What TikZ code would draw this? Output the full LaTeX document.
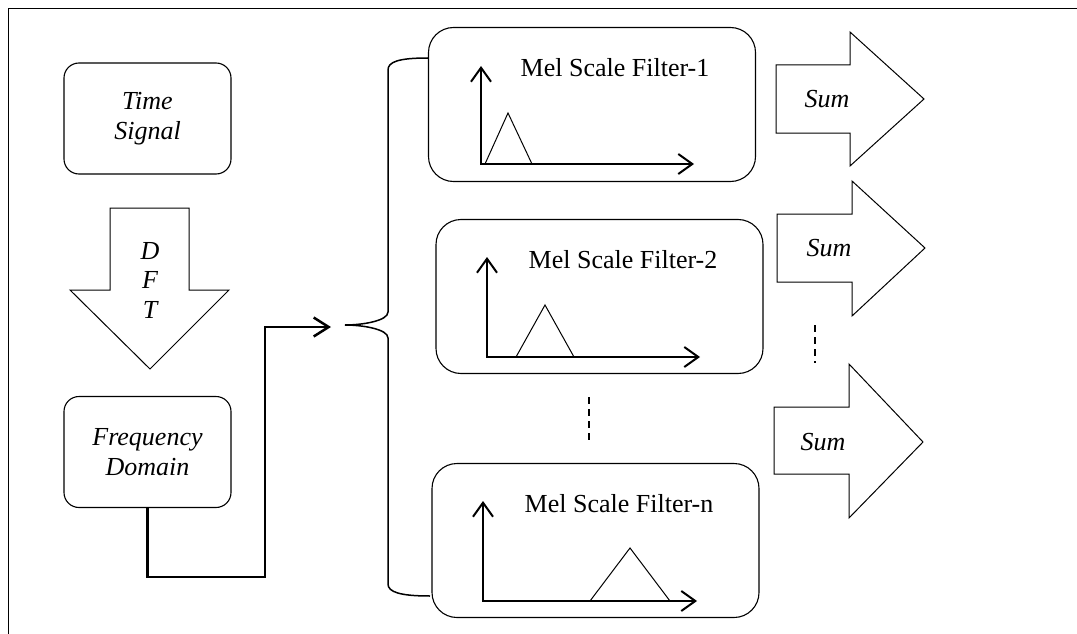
\documentclass[tikz,border=0pt]{standalone}
\usepackage{fontspec}
\setmainfont{Liberation Serif}
\usetikzlibrary{arrows.meta}
\begin{document}
\begin{tikzpicture}[x=1pt,y=-1pt,
  txtfont/.style={font=\fontsize{26}{30}\selectfont},
  stagebox/.style={draw, line width=1.1pt, rounded corners=15pt, inner sep=0pt,
    align=center, font=\itshape\fontsize{26}{30}\selectfont,
    minimum width=167pt, minimum height=111pt},
  filterbox/.style={draw, line width=1.1pt, rounded corners=25pt, inner sep=0pt,
    minimum width=327pt, minimum height=154pt},
  flabel/.style={txtfont, inner sep=0pt},
  ilabel/.style={font=\itshape\fontsize{26}{30}\selectfont, inner sep=0pt, align=center},
  bigarrow/.style={draw, line width=1pt, line join=miter},
  axisline/.style={line width=2pt, line cap=butt,
    -{Straight Barb[length=14pt,width=20pt]}},
  peak/.style={line width=1pt, line join=miter},
  conn/.style={line width=2.5pt, line join=miter,
    -{Straight Barb[length=15pt,width=19pt]}},
  bracepath/.style={line width=1.5pt},
  dots/.style={line width=1.5pt, dash pattern=on 7pt off 5pt}
]
\useasboundingbox (0,0) rectangle (1077,634);

% outer frame (left and top edges)
\draw[line width=1pt] (1077,9) -- (8.5,9) -- (8.5,634);

% left column
\node[stagebox] (ts) at (147.5,118.5) {Time\\Signal};
\draw[bigarrow] (110,208) -- (189,208) -- (189,290) -- (229,290) -- (150,369)
  -- (70,290) -- (110,290) -- cycle;
\node[ilabel, font=\itshape\fontsize{26}{29.5}\selectfont] (dft) at (150,280) {D\\F\\T};
\node[stagebox] (fd) at (147.5,452) {Frequency\\Domain};

% connector to the filter bank
\coordinate (c1) at (265,577);
\coordinate (cin) at (331,327);
\draw[conn] (fd.south) |- (c1) |- (cin);

% brace spreading into the filters
\coordinate (btip) at (345,325);
\draw[bracepath] (428,58) .. controls (398,58) and (388,62) .. (388,70)
  -- (388,312) .. controls (388,321) and (362,325) .. (btip)
  .. controls (362,325) and (388,329) .. (388,338)
  -- (388,584) .. controls (388,592) and (400,596) .. (430,596);

% filter 1
\node[filterbox] (f1) at (592,104.5) {};
\node[flabel] (f1t) at (615,68) {Mel Scale Filter-1};
\draw[axisline] (481,164) -- (481,66);
\draw[axisline] (480,164) -- (694,164);
\draw[peak] (485,164) -- (508,113) -- (532,164);

% filter 2
\node[filterbox] (f2) at (599.5,296.5) {};
\node[flabel] (f2t) at (623,260) {Mel Scale Filter-2};
\draw[axisline] (487,357) -- (487,257);
\draw[axisline] (486,357) -- (700,357);
\draw[peak] (516,357) -- (545,305) -- (574,357);

% continuation marks
\draw[dots] (589,397) -- (589,443);
\draw[dots] (815,325) -- (815,363);

% filter n
\node[filterbox] (fn) at (595.5,540.5) {};
\node[flabel] (fnt) at (619,504) {Mel Scale Filter-n};
\draw[axisline] (483,601) -- (483,501);
\draw[axisline] (482,601) -- (697,601);
\draw[peak] (590,601) -- (630,548) -- (670,601);

% summation arrows
\draw[bigarrow] (776,65) -- (850,65) -- (850,32) -- (924,99) -- (850,166)
  -- (850,133) -- (776,133) -- cycle;
\node[ilabel] (s1) at (827,99) {Sum};
\draw[bigarrow] (777,214) -- (852,214) -- (852,181) -- (925,248) -- (852,316)
  -- (852,282) -- (777,282) -- cycle;
\node[ilabel] (s2) at (829,248) {Sum};
\draw[bigarrow] (774,407) -- (849,407) -- (849,364) -- (923,442) -- (849,518)
  -- (849,474) -- (774,474) -- cycle;
\node[ilabel] (s3) at (823,442) {Sum};
\end{tikzpicture}
\end{document}
